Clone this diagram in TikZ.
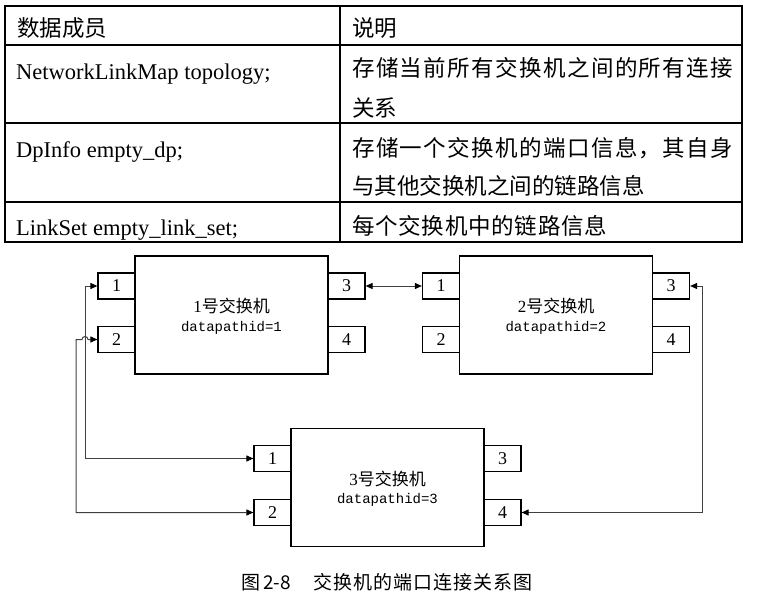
\documentclass[tikz,border=0pt]{standalone}
\usepackage{fontspec}
\setmainfont{Liberation Serif}
\newfontfamily\cjk{Noto Sans CJK SC}
\newfontfamily\monof{Liberation Mono}
\usetikzlibrary{arrows.meta}
\makeatletter
\newcommand\spreadtxt[2]{\hbox to #1{\@tfor\spr@c:=#2\do{\spr@c\hfil}\unskip}}
\makeatother
\begin{document}
\begin{tikzpicture}[x=1pt,y=-1pt,
  tline/.style={line width=1.2pt,draw=black},
  lat/.style={anchor=base west,inner sep=0pt,font=\fontsize{22.5}{27}\selectfont},
  zh/.style={anchor=base west,inner sep=0pt,font=\fontsize{22.5}{27}\selectfont\cjk},
  switchbox/.style={draw=black,line width=1.2pt,fill=white,minimum width=193pt,minimum height=118pt,inner sep=0pt},
  portbox/.style={draw=black,line width=1.2pt,minimum width=37pt,minimum height=26pt,inner sep=0pt,font=\fontsize{18}{18}\selectfont},
  swzh/.style={anchor=base,inner sep=0pt,font=\fontsize{17}{17}\selectfont},
  swmono/.style={anchor=base,inner sep=0pt,font=\fontsize{14}{14}\selectfont\monof},
  tip/.style={Triangle[length=7pt,width=6pt,fill=black,color=black]},
  link/.style={line width=1pt,draw=black!75,{Triangle[length=7pt,width=6pt,color=black,fill=black]}-{Triangle[length=7pt,width=6pt,color=black,fill=black]}},
  captxt/.style={anchor=base west,inner sep=0pt,font=\fontsize{19}{19}\selectfont\cjk}
]
\useasboundingbox (0,0) rectangle (769,599);
% ---------- table ----------
\draw[tline] (5,6) rectangle (742,242);
\draw[tline] (5,45) -- (742,45);
\draw[tline] (5,123) -- (742,123);
\draw[tline] (5,202) -- (742,202);
\draw[tline] (340,6) -- (340,242);
\node[zh] (h1) at (17,37) {数据成员};
\node[zh] (h2) at (352,37) {说明};
\node[lat] (r1l) at (16,80) {NetworkLinkMap topology;};
\node[zh] (r1a) at (352,77) {\spreadtxt{381pt}{存储当前所有交换机之间的所有连接}};
\node[zh] (r1b) at (352,116.5) {关系};
\node[lat] (r2l) at (16,158) {DpInfo empty\_dp;};
\node[zh] (r2a) at (352,156.5) {\spreadtxt{381pt}{存储一个交换机的端口信息，其自身}};
\node[zh] (r2b) at (352,194.5) {与其他交换机之间的链路信息};
\node[lat] (r3l) at (16,236) {LinkSet empty\_link\_set;};
\node[zh] (r3a) at (352,234.5) {\spreadtxt{255pt}{每个交换机中的链路信息}};
% ---------- switches ----------
\node[switchbox] (s1) at (231.5,315) {};
\node[switchbox] (s2) at (556,315) {};
\node[switchbox] (s3) at (387.5,487.5) {};
\node[portbox] (s1p1) at (116.5,286) {1};
\node[portbox] (s1p2) at (116.5,339.5) {2};
\node[portbox] (s1p3) at (346.5,286) {3};
\node[portbox] (s1p4) at (346.5,339.5) {4};
\node[portbox] (s2p1) at (441,286) {1};
\node[portbox] (s2p2) at (441,339.5) {2};
\node[portbox] (s2p3) at (671,286) {3};
\node[portbox] (s2p4) at (671,339.5) {4};
\node[portbox] (s3p1) at (272.5,458.5) {1};
\node[portbox] (s3p2) at (272.5,512.5) {2};
\node[portbox] (s3p3) at (502.5,458.5) {3};
\node[portbox] (s3p4) at (502.5,512.5) {4};
\node[swzh] (t1a) at (231.5,312.5) {1{\cjk 号交换机}};
\node[swmono] (t1b) at (231.5,331) {datapathid=1};
\node[swzh] (t2a) at (556,312.5) {2{\cjk 号交换机}};
\node[swmono] (t2b) at (556,331) {datapathid=2};
\node[swzh] (t3a) at (387.5,485) {3{\cjk 号交换机}};
\node[swmono] (t3b) at (387.5,503.5) {datapathid=3};
% ---------- connectors ----------
\coordinate (l1) at (85,458.5);
\coordinate (l2a) at (76,512.5);
\coordinate (l2b) at (76,339.5);
\coordinate (hop) at (82,339.5);
\coordinate (r1) at (702,512.5);
\draw[link] (s1p3.east) -- (s2p1.west);
\draw[link] (s1p1.west) -| (l1) -- (s3p1.west);
\draw[link] (s3p2.west) -- (l2a) -- (l2b) -- (hop) arc[start angle=180,end angle=360,radius=3] -- (s1p2.west);
\draw[link] (s2p3.east) -| (r1) -- (s3p4.east);
% ---------- caption ----------
\node[captxt] (cap) at (241,589) {图\hspace{3pt}2-8\hspace{23pt}\spreadtxt{219pt}{交换机的端口连接关系图}};
\end{tikzpicture}
\end{document}
